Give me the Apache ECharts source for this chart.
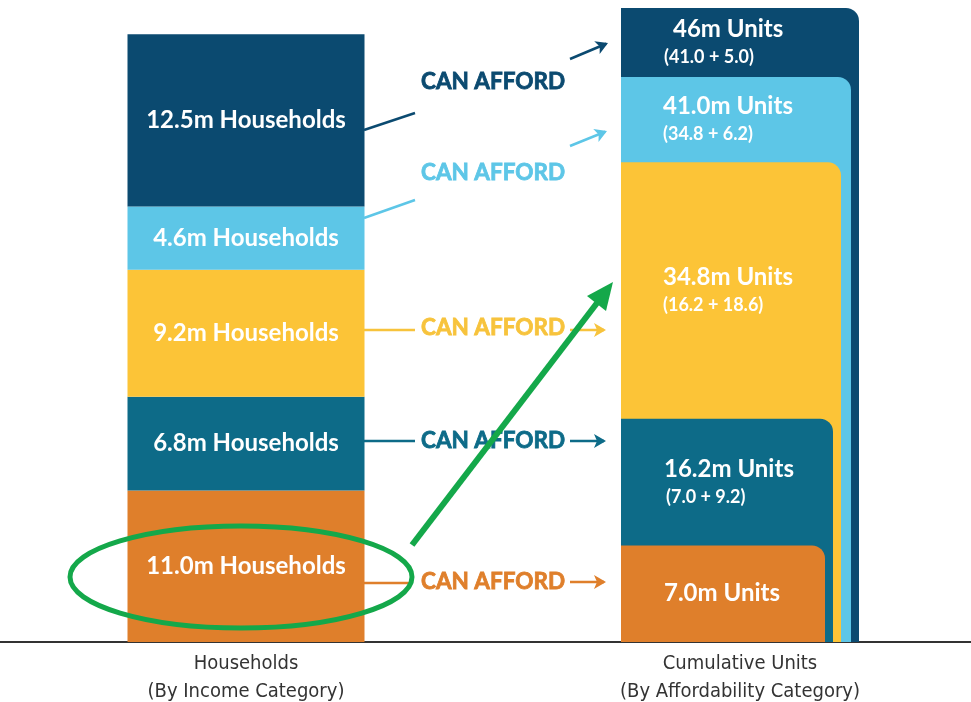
<!DOCTYPE html>
<html>
  <head>
    <meta charset="utf-8" />
    <title>Households vs Units</title>
    <script src="https://cdn.jsdelivr.net/npm/echarts@6/dist/echarts.min.js"></script>
    <style>
      html, body { margin: 0; padding: 0; background: #fff; }
    </style>
  </head>
  <body>
    <div id="main" style="width: 971px;height:702px;"></div>
    <script type="text/javascript">
      // data, bottom of the stack first
      var categories = ["Households\n(By Income Category)", "Cumulative Units\n(By Affordability Category)"];
      var households = [11.0, 6.8, 9.2, 4.6, 12.5];
      var householdLabels = ["11.0m Households", "6.8m Households", "9.2m Households", "4.6m Households", "12.5m Households"];
      // right column, biggest first (drawn first, smaller ones on top)
      var units = [46, 41.0, 34.8, 16.2, 7.0];
      var unitLabels = ["46m Units", "41.0m Units", "34.8m Units", "16.2m Units", "7.0m Units"];
      var unitParts = ["(41.0 + 5.0)", "(34.8 + 6.2)", "(16.2 + 18.6)", "(7.0 + 9.2)", ""];

      // colours, bottom category first
      var colors = ["#df7f2b", "#0d6b88", "#fcc437", "#5dc6e7", "#0b4a70"];
      var unitColors = ["#0b4a70", "#5dc6e7", "#fcc437", "#0d6b88", "#df7f2b"];
      var unitWidths = [238, 230, 220, 212, 204];
      var titleIndent = [52, 42, 42, 43, 43];
      var subIndent = [43, 42, 42, 45, 0];

      var boldFont = "Lato, 'Open Sans', sans-serif";
      var green = "#14a84a";

      var myChart = echarts.init(document.getElementById("main"));

      var barSeries = households.map(function (v, i) {
        return {
          type: "bar",
          stack: "hh",
          barWidth: 237,
          silent: true,
          itemStyle: { color: colors[i] },
          label: {
            show: true,
            position: "inside",
            color: "#fff",
            fontFamily: boldFont,
            fontWeight: "bold",
            fontSize: 24,
            formatter: householdLabels[i]
          },
          data: [v, "-"]
        };
      });

      var unitSeries = {
        type: "custom",
        silent: true,
        data: units.map(function (v) {
          return [1, v];
        }),
        encode: { x: 0, y: 1 },
        renderItem: function (params, api) {
          var i = params.dataIndex;
          var top = api.coord([api.value(0), api.value(1)]);
          var base = api.coord([api.value(0), 0]);
          var next = i < units.length - 1 ? api.coord([1, units[i + 1]])[1] : base[1];
          var left = base[0] - 119;
          var mid = (top[1] + next) / 2;
          var children = [
            {
              type: "rect",
              shape: { x: left, y: top[1], width: unitWidths[i], height: base[1] - top[1], r: [0, 13, 0, 0] },
              style: { fill: unitColors[i] }
            }
          ];
          var hasSub = unitParts[i] !== "";
          children.push({
            type: "text",
            style: {
              text: unitLabels[i],
              x: left + titleIndent[i],
              y: hasSub ? mid - 13 : mid,
              fill: "#fff",
              fontFamily: boldFont,
              fontWeight: "bold",
              fontSize: 24,
              align: "left",
              verticalAlign: "middle"
            }
          });
          if (hasSub) {
            children.push({
              type: "text",
              style: {
                text: unitParts[i],
                x: left + subIndent[i],
                y: mid + 15,
                fill: "#fff",
                fontFamily: boldFont,
                fontWeight: "bold",
                fontSize: 18,
                align: "left",
                verticalAlign: "middle"
              }
            });
          }
          return { type: "group", children: children };
        }
      };

      // "CAN AFFORD" connectors, top to bottom
      var connectors = [
        { c: "#0b4a70", l: [364, 130, 415, 113], ty: 82, a: [570, 59, 608, 43] },
        { c: "#5dc6e7", l: [364, 218, 415, 200], ty: 173, a: [570, 146, 607, 131] },
        { c: "#f7c33c", l: [364, 330, 415, 330], ty: 328, a: [570, 330, 606, 330] },
        { c: "#0d6b88", l: [364, 441, 415, 441], ty: 441, a: [570, 441, 606, 441] },
        { c: "#df7f2b", l: [364, 583, 412, 583], ty: 582, a: [570, 582, 606, 582] }
      ];

      var graphics = [];
      connectors.forEach(function (k) {
        graphics.push({
          type: "line",
          shape: { x1: k.l[0], y1: k.l[1], x2: k.l[2], y2: k.l[3] },
          style: { stroke: k.c, lineWidth: 2.5 }
        });
        graphics.push({
          type: "text",
          style: {
            text: "CAN AFFORD",
            x: 421,
            y: k.ty,
            fill: k.c,
            stroke: k.c,
            lineWidth: 0.8,
            fontFamily: boldFont,
            fontWeight: "bold",
            fontSize: 22.5,
            align: "left",
            verticalAlign: "middle"
          }
        });
        var dx = k.a[2] - k.a[0], dy = k.a[3] - k.a[1];
        var len = Math.sqrt(dx * dx + dy * dy);
        var ux = dx / len, uy = dy / len, nx = -uy, ny = ux;
        var bx = k.a[2] - 12 * ux, by = k.a[3] - 12 * uy;
        graphics.push({
          type: "line",
          shape: { x1: k.a[0], y1: k.a[1], x2: k.a[2] - 2 * ux, y2: k.a[3] - 2 * uy },
          style: { stroke: k.c, lineWidth: 2.5 }
        });
        graphics.push({
          type: "polygon",
          shape: { points: [[k.a[2], k.a[3]], [bx + 7 * nx, by + 7 * ny], [bx + 3 * ux, by + 3 * uy], [bx - 7 * nx, by - 7 * ny]] },
          style: { fill: k.c }
        });
      });

      // green annotation
      graphics.push({
        type: "ellipse",
        z: 100,
        shape: { cx: 241, cy: 577, rx: 171, ry: 51 },
        style: { stroke: green, lineWidth: 5, fill: "none" }
      });
      graphics.push({
        type: "line",
        z: 100,
        shape: { x1: 412, y1: 545, x2: 597, y2: 303 },
        style: { stroke: green, lineWidth: 6 }
      });
      graphics.push({
        type: "polygon",
        z: 100,
        shape: { points: [[613, 282], [606, 311], [587, 296]] },
        style: { fill: green }
      });

      var option = {
        backgroundColor: "#fff",
        animation: false,
        grid: { left: -1, right: -16, top: 8, bottom: 60, outerBoundsMode: "none", containLabel: false },
        xAxis: {
          type: "category",
          data: categories,
          axisTick: { show: false },
          axisLine: { lineStyle: { color: "#333", width: 2 } },
          axisLabel: {
            color: "#333",
            fontFamily: "'Liberation Sans Narrow', 'DejaVu Sans Condensed', sans-serif",
            fontSize: 20,
            lineHeight: 28,
            margin: 8
          }
        },
        yAxis: {
          type: "value",
          min: 0,
          max: 46,
          show: false,
          splitLine: { show: false }
        },
        series: barSeries.concat([unitSeries]),
        graphic: { elements: graphics }
      };

      myChart.setOption(option);
    </script>
  </body>
</html>
